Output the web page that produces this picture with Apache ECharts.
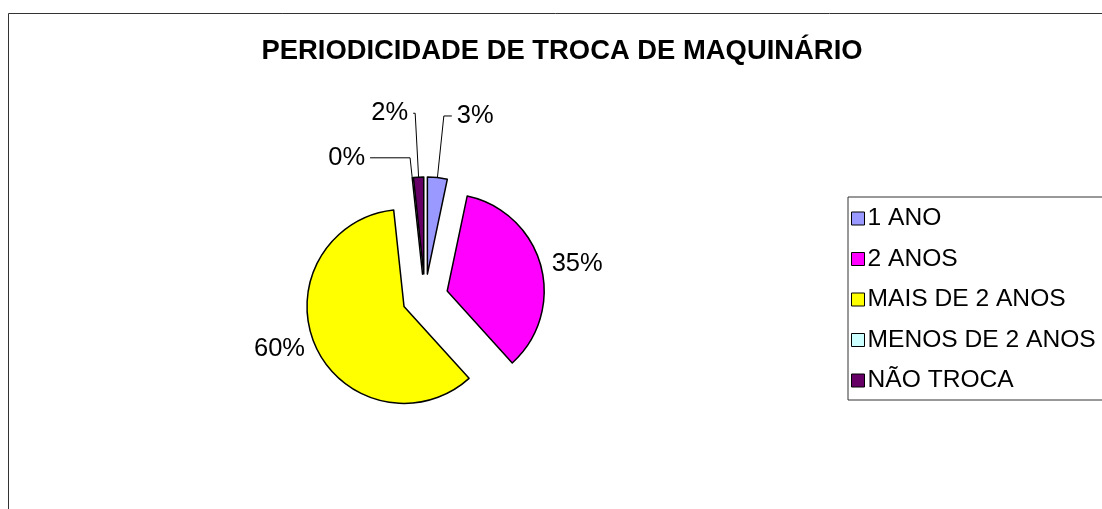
<!DOCTYPE html>
<html>
<head>
<meta charset="utf-8">
<script src="https://cdn.jsdelivr.net/npm/echarts@6/dist/echarts.min.js"></script>
<style>
  html, body { margin: 0; padding: 0; background: #fff; }
  #chart { width: 1102px; height: 509px; }
</style>
</head>
<body>
<div id="chart"></div>
<script>
// categories and shares (%)
const categories = ['1 ANO', '2 ANOS', 'MAIS DE 2 ANOS', 'MENOS DE 2 ANOS', 'NÃO TROCA']
const shares = [3.3, 35, 60, 0, 1.7]
const colors = ['#9999FF', '#FF00FF', '#FFFF00', '#CCFFFF', '#660066']

const font = '"Liberation Sans", Arial, sans-serif'

// leader line [length, length2] per slice, big slices get none
const leaders = {
  '1 ANO': [62, 8],
  'MENOS DE 2 ANOS': [20, 40],
  'NÃO TROCA': [64, 2],
}

const chart = echarts.init(document.getElementById('chart'))

const option = {
  animation: false,
  backgroundColor: '#fff',
  title: {
    text: 'PERIODICIDADE DE TROCA DE MAQUINÁRIO',
    left: 557,
    textAlign: 'center',
    top: 33,
    textStyle: {
      fontFamily: font,
      fontSize: 27.4,
      fontWeight: 'bold',
      color: '#000',
    },
  },
  graphic: [
    {
      type: 'rect',
      shape: { x: 8.5, y: 13.5, width: 1200, height: 600 },
      style: { fill: 'none', stroke: '#333', lineWidth: 1 },
      silent: true,
    },
  ],
  legend: {
    orient: 'vertical',
    left: 848,
    top: 197,
    data: categories,
    icon: 'rect',
    itemWidth: 13,
    itemHeight: 13,
    itemGap: 15.5,
    padding: [9, 40, 7, 3],
    borderColor: '#333',
    borderWidth: 1,
    backgroundColor: '#fff',
    selectedMode: false,
    itemStyle: { borderColor: '#000', borderWidth: 1 },
    textStyle: { fontFamily: font, fontSize: 24.6, color: '#000', padding: [0, 0, 0, -2] },
  },
  series: [
    {
      type: 'pie',
      center: [425, 297],
      radius: 97,
      startAngle: 90,
      clockwise: true,
      selectedMode: 'multiple',
      selectedOffset: 23,
      avoidLabelOverlap: false,
      itemStyle: { borderColor: '#000', borderWidth: 1.5 },
      emphasis: { disabled: true },
      label: {
        show: true,
        position: 'outside',
        fontFamily: font,
        fontSize: 25.5,
        color: '#000',
        formatter: (p) => Math.round(p.value) + '%',
      },
      labelLine: {
        show: true,
        lineStyle: { color: '#000', width: 1 },
      },
      data: categories.map((name, i) => ({
        name,
        value: shares[i],
        selected: true,
        itemStyle: { color: colors[i] },
        labelLine: leaders[name]
          ? { show: true, length: leaders[name][0], length2: leaders[name][1] }
          : { show: false, length: 6, length2: 0 },
      })),
    },
  ],
}

chart.setOption(option)
</script>
</body>
</html>
